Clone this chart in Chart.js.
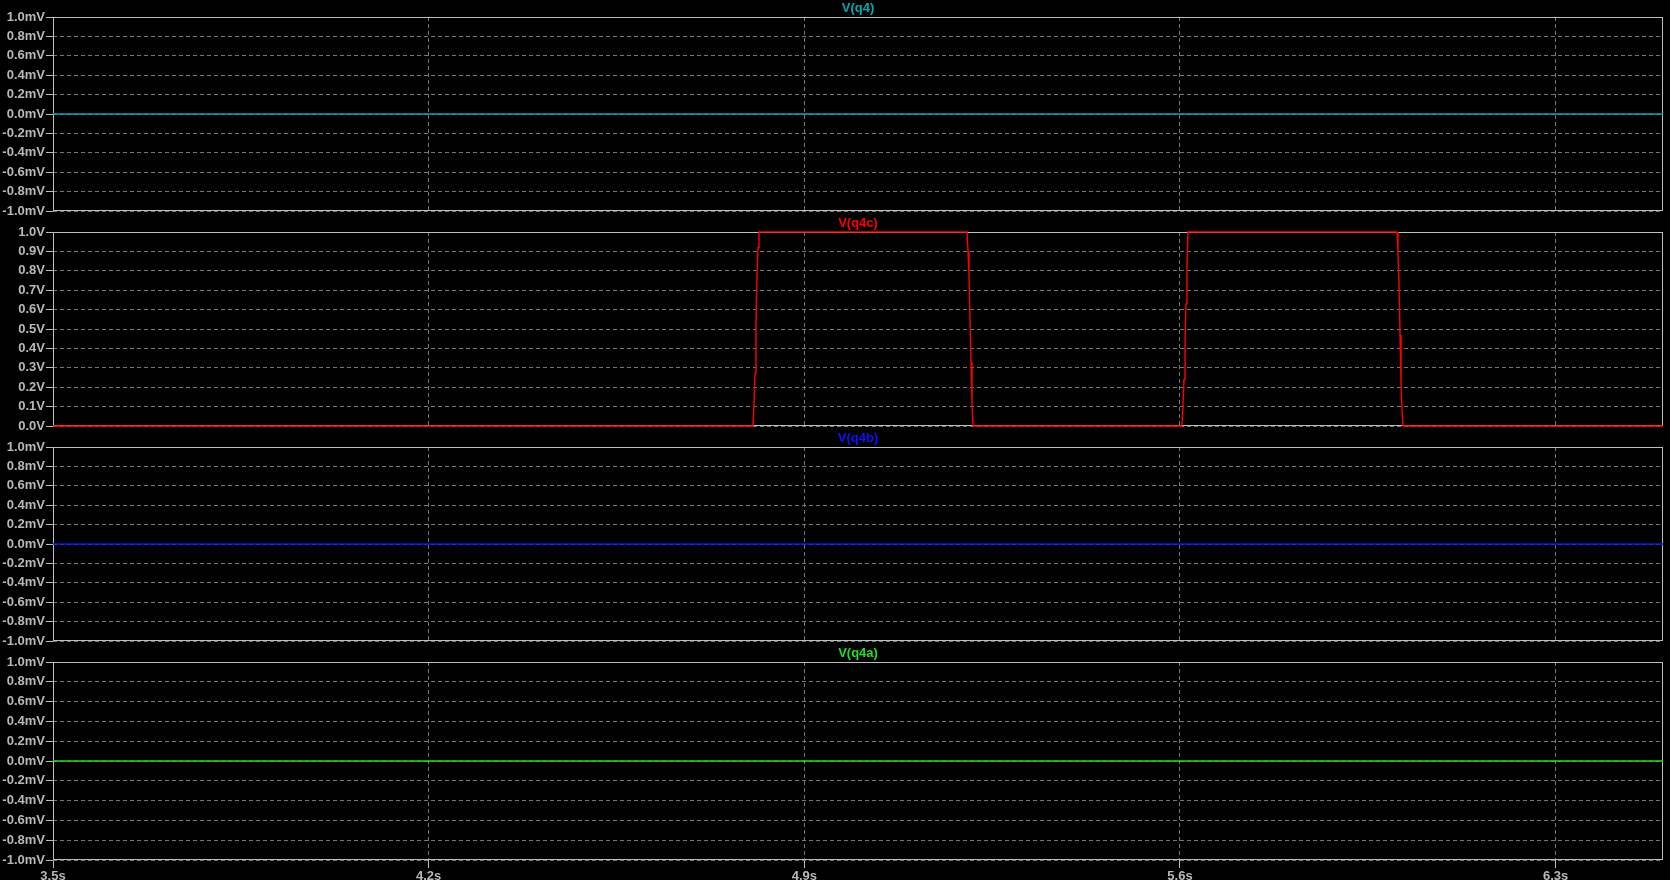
<!DOCTYPE html>
<html>
<head>
<meta charset="utf-8">
<script src="https://cdn.jsdelivr.net/npm/chart.js@4"></script>
<style>
  html, body { margin: 0; padding: 0; background: #000; }
  body { width: 1670px; height: 880px; position: relative; overflow: hidden; }
  canvas { position: absolute; left: 0; }
</style>
</head>
<body>
<canvas id="p0"></canvas>
<canvas id="p1"></canvas>
<canvas id="p2"></canvas>
<canvas id="p3"></canvas>
<script>
// dados
const xTicks = [3.5, 4.2, 4.9, 5.6, 6.3];
const mvTicks = [-1.0, -0.8, -0.6, -0.4, -0.2, 0.0, 0.2, 0.4, 0.6, 0.8, 1.0];
const vTicks = [0.0, 0.1, 0.2, 0.3, 0.4, 0.5, 0.6, 0.7, 0.8, 0.9, 1.0];

const flatTime = [3.5, 6.5];
const q4Values = [0, 0];
const q4bValues = [0, 0];
const q4aValues = [0, 0];

const q4cTime = [3.5,
  4.8043, 4.8062, 4.8081, 4.8099, 4.8118, 4.8137, 4.8155,
  5.2031, 5.2050, 5.2068, 5.2087, 5.2106, 5.2124, 5.2143,
  5.6037, 5.6056, 5.6075, 5.6093, 5.6112, 5.6130, 5.6149,
  6.0044, 6.0062, 6.0081, 6.0100, 6.0118, 6.0137, 6.0156,
  6.5];
const q4cValues = [0,
  0, 0.11, 0.27, 0.53, 0.78, 0.92, 1,
  1, 0.9, 0.78, 0.55, 0.33, 0.13, 0,
  0, 0.11, 0.24, 0.42, 0.63, 0.83, 1,
  1, 0.9, 0.73, 0.47, 0.22, 0.08, 0,
  0];

// layout dos painéis
const paneTops = [17, 232, 447, 662];
const paneBottoms = [211, 426, 641, 860];

const TEXT = '#b8b8b8';
const FRAME = '#bdbdbd';
const GRID = '#767676';
const FONT = { family: 'Liberation Sans', size: 13, weight: 'bold' };

const panes = [
  { id: 'p0', name: 'V(q4)', color: '#00a8b4', t: flatTime, v: q4Values, ticks: mvTicks, unit: 'mV', min: -1, max: 1 },
  { id: 'p1', name: 'V(q4c)', color: '#ff0000', t: q4cTime, v: q4cValues, ticks: vTicks, unit: 'V', min: 0, max: 1 },
  { id: 'p2', name: 'V(q4b)', color: '#1010ff', t: flatTime, v: q4bValues, ticks: mvTicks, unit: 'mV', min: -1, max: 1 },
  { id: 'p3', name: 'V(q4a)', color: '#22dd22', t: flatTime, v: q4aValues, ticks: mvTicks, unit: 'mV', min: -1, max: 1 }
];

// moldura + título de cada painel
const paneDeco = {
  id: 'paneDeco',
  beforeDatasetsDraw(chart, args, opts) {
    const { ctx, chartArea: a } = chart;
    ctx.save();
    ctx.strokeStyle = FRAME;
    ctx.lineWidth = 1;
    ctx.setLineDash([]);
    ctx.strokeRect(Math.round(a.left) + 0.5, Math.round(a.top) + 0.5,
      Math.round(a.right - a.left) - 1, Math.round(a.bottom - a.top) - 1);
    ctx.fillStyle = opts.color;
    ctx.font = 'bold 13px "Liberation Sans"';
    ctx.textAlign = 'center';
    ctx.textBaseline = 'middle';
    ctx.fillText(opts.title, (a.left + a.right) / 2, a.top - 9);
    ctx.restore();
  }
};

panes.forEach((p, i) => {
  const last = i === panes.length - 1;
  const canvasTop = paneTops[i] - 17;
  const canvasH = last ? 880 - canvasTop : (paneTops[i + 1] - 17) - canvasTop;
  const xH = canvasH - 17 - (paneBottoms[i] - paneTops[i]);
  const el = document.getElementById(p.id);
  el.width = 1670;
  el.height = canvasH;
  el.style.top = canvasTop + 'px';

  new Chart(el, {
    type: 'line',
    data: {
      datasets: [{
        label: p.name,
        data: p.t.map((t, k) => ({ x: t, y: p.v[k] })),
        borderColor: p.color,
        borderWidth: 1.4,
        pointRadius: 0,
        tension: 0,
        fill: false,
        clip: 3
      }]
    },
    options: {
      responsive: false,
      animation: false,
      devicePixelRatio: 1,
      layout: { padding: { top: 17, right: 7, left: 0, bottom: 0 } },
      plugins: {
        legend: { display: false },
        tooltip: { enabled: false },
        paneDeco: { title: p.name, color: p.color }
      },
      scales: {
        x: {
          type: 'linear',
          min: 3.5,
          max: 6.5,
          afterBuildTicks: ax => { ax.ticks = xTicks.map(v => ({ value: v })); },
          afterFit: ax => { ax.height = xH; ax.paddingLeft = 0; ax.paddingRight = 0; },
          border: { display: false, dash: [4, 3] },
          grid: {
            color: GRID,
            drawTicks: last,
            tickLength: 8,
            tickColor: FRAME,
            tickBorderDash: []
          },
          ticks: {
            display: last,
            autoSkip: false,
            maxRotation: 0,
            padding: 1,
            color: TEXT,
            font: FONT,
            callback: v => v.toFixed(1) + 's'
          }
        },
        y: {
          type: 'linear',
          min: p.min,
          max: p.max,
          afterBuildTicks: ax => { ax.ticks = p.ticks.map(v => ({ value: v })); },
          afterFit: ax => { ax.width = 53; ax.paddingTop = 0; ax.paddingBottom = 0; },
          border: { display: false, dash: [4, 3] },
          grid: {
            color: GRID,
            tickLength: 7,
            tickColor: FRAME,
            tickBorderDash: []
          },
          ticks: {
            autoSkip: false,
            padding: 1,
            color: TEXT,
            font: FONT,
            callback: v => v.toFixed(1) + p.unit
          }
        }
      }
    },
    plugins: [paneDeco]
  });
});
</script>
</body>
</html>
